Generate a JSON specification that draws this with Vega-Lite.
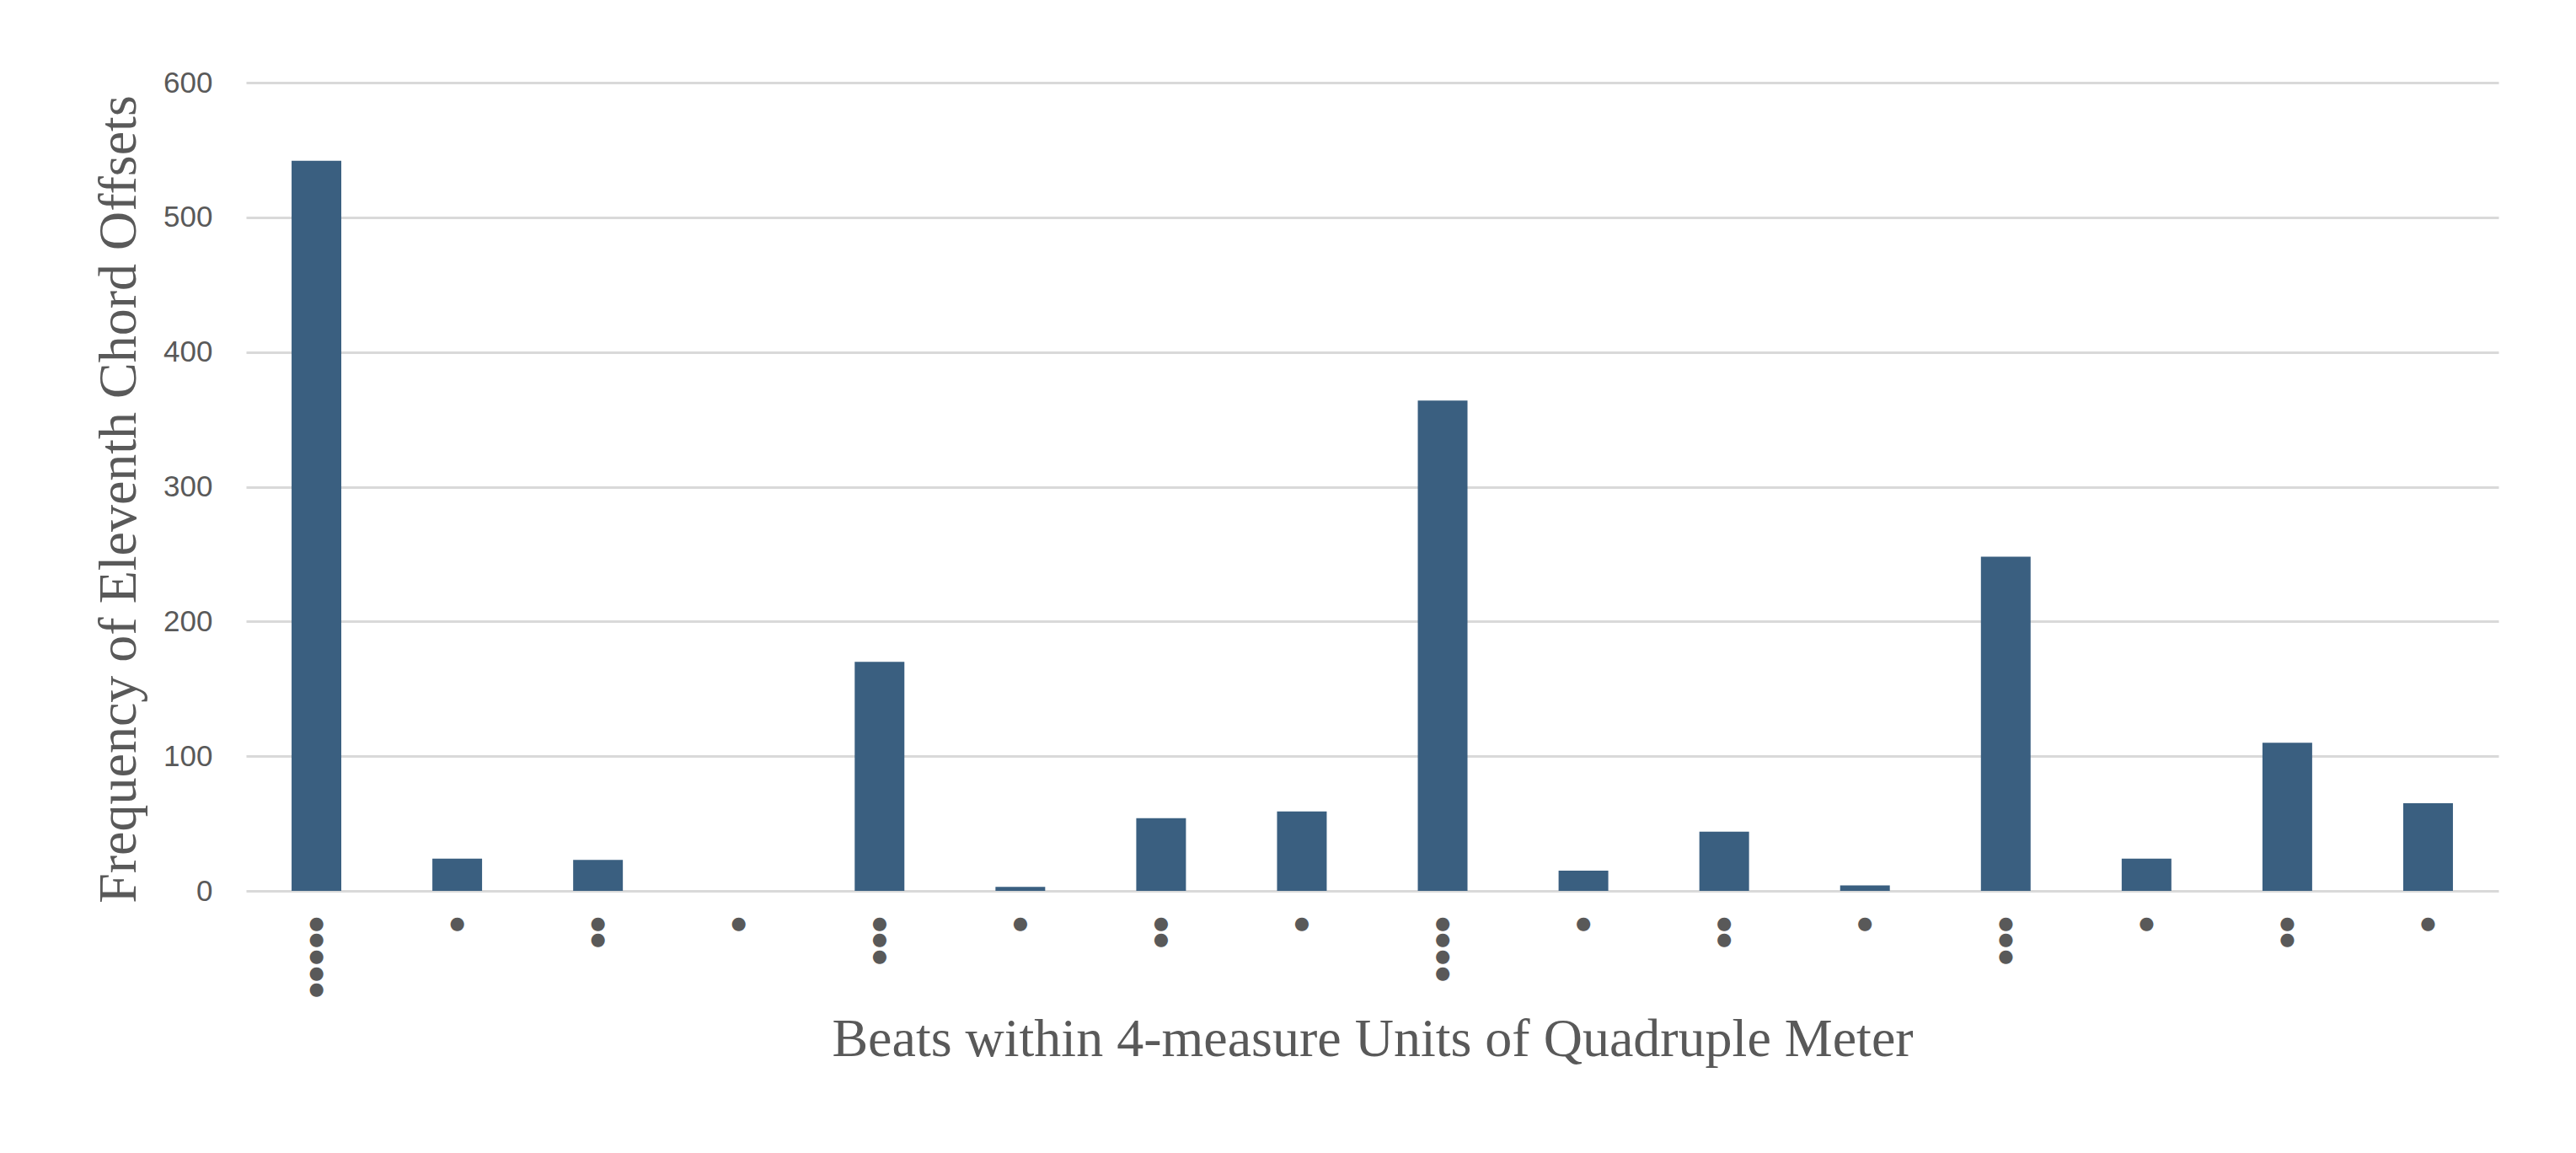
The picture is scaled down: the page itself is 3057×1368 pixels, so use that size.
{
  "$schema": "https://vega.github.io/schema/vega-lite/v6.json",
  "autosize": {"type": "none"},
  "padding": {"left": 292, "top": 98, "right": 92, "bottom": 311},
  "width": 2673,
  "height": 959,
  "background": "white",
  "config": {
    "view": {"stroke": null},
    "axis": {"labelColor": "#595959", "titleColor": "#595959", "gridColor": "#d9d9d9", "gridWidth": 3}
  },
  "data": {
    "values": [
      {"beat": 1, "freq": 542},
      {"beat": 2, "freq": 24},
      {"beat": 3, "freq": 23},
      {"beat": 4, "freq": 0},
      {"beat": 5, "freq": 170},
      {"beat": 6, "freq": 3},
      {"beat": 7, "freq": 54},
      {"beat": 8, "freq": 59},
      {"beat": 9, "freq": 364},
      {"beat": 10, "freq": 15},
      {"beat": 11, "freq": 44},
      {"beat": 12, "freq": 4},
      {"beat": 13, "freq": 248},
      {"beat": 14, "freq": 24},
      {"beat": 15, "freq": 110},
      {"beat": 16, "freq": 65}
    ]
  },
  "mark": {"type": "bar", "color": "#3a5f80"},
  "encoding": {
    "x": {
      "field": "beat",
      "type": "ordinal",
      "scale": {"paddingInner": 0.647, "paddingOuter": 0.3235},
      "axis": {
        "title": "Beats within 4-measure Units of Quadruple Meter",
        "titleFont": "Liberation Serif",
        "titleFontSize": 64,
        "titleFontWeight": "normal",
        "titleBaseline": "alphabetic",
        "titleY": 195,
        "labelAngle": 0,
        "labelFont": "DejaVu Sans",
        "labelFontSize": 21,
        "labelLineHeight": 19.7,
        "labelBaseline": "alphabetic",
        "labelPadding": 44,
        "labelExpr": "[['●','●','●','●','●'],['●'],['●','●'],['●'],['●','●','●'],['●'],['●','●'],['●'],['●','●','●','●'],['●'],['●','●'],['●'],['●','●','●'],['●'],['●','●'],['●']][datum.value-1]",
        "ticks": false,
        "domain": false,
        "grid": false
      }
    },
    "y": {
      "field": "freq",
      "type": "quantitative",
      "scale": {"domain": [0, 600], "nice": false},
      "axis": {
        "title": "Frequency of Eleventh Chord Offsets",
        "titleFont": "Liberation Serif",
        "titleFontSize": 64,
        "titleFontWeight": "normal",
        "titleBaseline": "alphabetic",
        "titleX": -132,
        "titleY": 494,
        "values": [0, 100, 200, 300, 400, 500, 600],
        "labelFont": "Liberation Sans",
        "labelFontSize": 35,
        "labelPadding": 40,
        "ticks": false,
        "domain": false
      }
    }
  }
}
